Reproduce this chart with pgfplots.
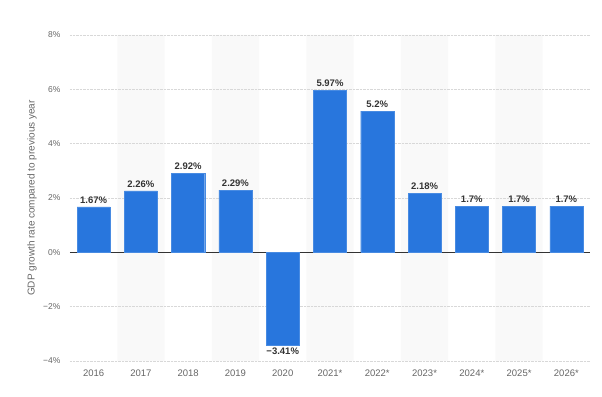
\documentclass[border=0pt]{standalone}
\usepackage{fontspec}
\setmainfont{Liberation Sans}
\usepackage{pgfplots}
\usepackage{pgfplotstable}
\pgfplotsset{compat=1.18}
\definecolor{barblue}{HTML}{2876DD}
\definecolor{bandgray}{HTML}{F9F9F9}
\definecolor{ticgray}{HTML}{666666}
\definecolor{lblgray}{HTML}{333333}
\definecolor{gridgray}{HTML}{D8D8D8}
\pgfplotstableread{
x y lbl
0 1.67 1.67\%
1 2.26 2.26\%
2 2.92 2.92\%
3 2.29 2.29\%
5 5.97 5.97\%
6 5.2 5.2\%
7 2.18 2.18\%
8 1.7 1.7\%
9 1.7 1.7\%
10 1.7 1.7\%
}\gdpdata
\pgfplotstableread{
x y lbl
4 -3.41 −3.41\%
}\gdpneg
\pgfplotstableread{
x top bot
1 8 -4
3 8 -4
5 8 -4
7 8 -4
9 8 -4
}\bands
\begin{document}
\begin{tikzpicture}
\begin{axis}[
  set layers=standard,
  scale only axis,
  width=520pt, height=326pt,
  at={(0pt,0pt)}, anchor=south west,
  xmin=-0.5, xmax=10.5,
  ymin=-4, ymax=8,
  axis line style={draw=none},
  major tick length=0pt,
  xtick={0,...,10},
  xticklabels={2016,2017,2018,2019,2020,2021*,2022*,2023*,2024*,2025*,2026*},
  ytick={-4,-2,0,2,4,6,8},
  yticklabels={−4\%,−2\%,0\%,2\%,4\%,6\%,8\%},
  ymajorgrids,
  grid style={gridgray, densely dotted, line width=0.6pt},
  extra y ticks={0},
  extra y tick labels={},
  extra y tick style={grid style={solid, draw=lblgray, line width=1.2pt}},
  ticklabel style={font=\fontsize{8.5}{10}\selectfont, text=ticgray},
  yticklabel style={xshift=-6pt},
  xticklabel style={yshift=-5pt, font=\fontsize{9.5}{11}\selectfont, text=ticgray},
  ylabel={GDP growth rate compared to previous year},
  ylabel style={at={(axis description cs:-0.073,0.5)}, anchor=center, font=\fontsize{10}{12}\selectfont, text=ticgray},
  clip=false,
]
\addplot[on layer=axis background, ybar, bar width=1, bar shift=0pt, fill=bandgray, draw=none]
  table[x=x, y=top] {\bands};
\addplot[on layer=axis background, ybar, bar width=1, bar shift=0pt, fill=bandgray, draw=none]
  table[x=x, y=bot] {\bands};
\addplot[ybar, bar width=0.7, bar shift=0pt, fill=barblue, draw=barblue!85!white, line width=0.4pt,
  point meta=explicit symbolic,
  nodes near coords,
  nodes near coords style={font=\fontsize{9.5}{11}\selectfont\bfseries, text=lblgray, inner sep=3pt, anchor=south}]
  table[x=x, y=y, meta=lbl] {\gdpdata};
\addplot[ybar, bar width=0.7, bar shift=0pt, fill=barblue, draw=barblue!85!white, line width=0.4pt,
  point meta=explicit symbolic,
  nodes near coords,
  nodes near coords style={font=\fontsize{9.5}{11}\selectfont\bfseries, text=lblgray, inner sep=3pt, anchor=north}]
  table[x=x, y=y, meta=lbl] {\gdpneg};
\end{axis}
\path (-70pt,-35pt) rectangle (532pt,361pt);
\end{tikzpicture}
\end{document}
